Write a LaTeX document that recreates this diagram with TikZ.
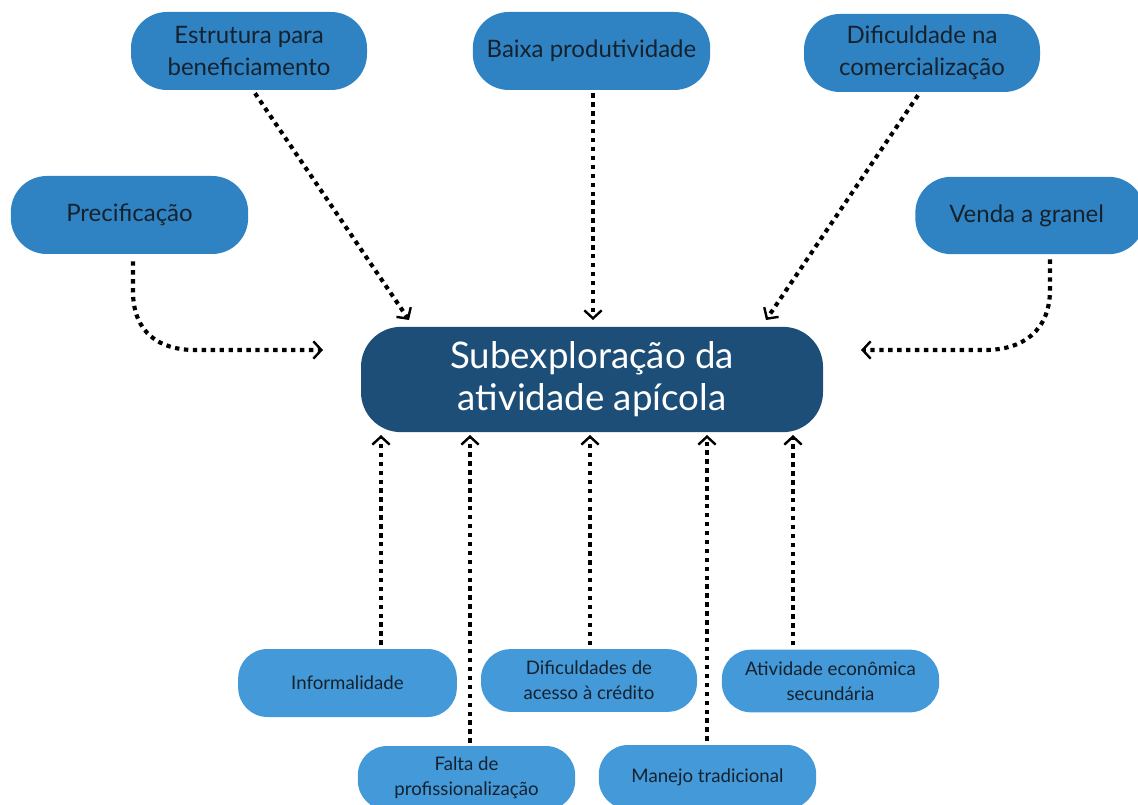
\documentclass[tikz,border=0pt]{standalone}
\usepackage{fontspec}
\setmainfont{Lato}
\usetikzlibrary{arrows.meta,calc}
\definecolor{topblue}{HTML}{3083C3}
\definecolor{lowblue}{HTML}{4499D8}
\definecolor{mainblue}{HTML}{1C4E78}
\definecolor{inktxt}{HTML}{15222E}
\tikzset{
  topbox/.style={fill=topblue, rounded corners=27pt, inner sep=0pt, text=inktxt, align=center, font=\fontsize{18}{24}\selectfont},
  lowbox/.style={fill=lowblue, rounded corners=22pt, inner sep=0pt, text=inktxt, align=center, font=\fontsize{14}{19}\selectfont},
  mainbox/.style={fill=mainblue, rounded corners=30pt, inner sep=0pt, text=white, align=center, font=\fontsize{27.5}{31.5}\selectfont},
  dotarrow/.style={line width=3.1pt, dash pattern=on 3.3pt off 3.4pt, -{Straight Barb[line width=1.8pt, length=6pt, width=13pt]}},
}
\begin{document}
\begin{tikzpicture}[x=0.75pt,y=-0.75pt]
\useasboundingbox (0,0) rectangle (1138,805);
% nodes
\node[topbox, minimum width=177pt, minimum height=58.5pt] (est) at (249,51) {Estrutura para\\beneficiamento};
\node[topbox, minimum width=178pt, minimum height=58.5pt] (baixa) at (591.5,51) {Baixa produtividade};
\node[topbox, minimum width=177pt, minimum height=58.5pt] (dif) at (922,53) {Dificuldade na\\comercialização};
\node[topbox, minimum width=178pt, minimum height=58.5pt] (prec) at (129.5,215) {Precificação};
\node[topbox, minimum width=172pt, minimum height=58pt] (venda) at (1030,215.5) {\hspace*{-5pt}Venda a granel};
\node[mainbox, minimum width=346.5pt, minimum height=79pt] (main) at (592,379.5) {Subexploração da\\atividade apícola};
\node[lowbox, minimum width=164pt, minimum height=51pt] (info) at (347.5,683) {Informalidade};
\node[lowbox, minimum width=162pt, minimum height=47pt] (difac) at (589,680.5) {Dificuldades de\\acesso à crédito};
\node[lowbox, minimum width=163pt, minimum height=47pt] (ativ) at (830.5,681) {Atividade econômica\\secundária};
\node[lowbox, minimum width=163pt, minimum height=48pt] (falta) at (466.5,778) {Falta de\\profissionalização};
\node[lowbox, minimum width=163pt, minimum height=48pt] (manejo) at (707.5,777) {Manejo tradicional};
% arrow end points
\coordinate (tEst) at (409,320);
\coordinate (tBaixa) at (593,320);
\coordinate (tDif) at (766,320);
\coordinate (tPrec) at (323,350);
\coordinate (tVenda) at (861,350);
\coordinate (tInfo) at (381,435);
\coordinate (tFalta) at (470,435);
\coordinate (tDifac) at (590,435);
\coordinate (tManejo) at (707,435);
\coordinate (tAtiv) at (793,435);
% connectors
\draw[dotarrow] ($(est.south)+(6,3)$) -- (tEst);
\draw[dotarrow] ($(baixa.south)+(1.5,3)$) -- (tBaixa);
\draw[dotarrow] ($(dif.south)+(-4,3)$) -- (tDif);
\draw[dotarrow] ($(prec.south)+(3.5,7)$) -- ++(0,30) .. controls +(0,42) and (160,350) .. (195,350) -- (tPrec);
\draw[dotarrow] ($(venda.south)+(20,5)$) -- ++(0,30) .. controls +(0,42) and (1022,350) .. (985,350) -- (tVenda);
\draw[dotarrow] ($(info.north)+(33.5,-4)$) -- (tInfo);
\draw[dotarrow] ($(falta.north)+(3.5,-3)$) -- (tFalta);
\draw[dotarrow] ($(difac.north)+(1,-4)$) -- (tDifac);
\draw[dotarrow] ($(manejo.north)+(-0.5,-4)$) -- (tManejo);
\draw[dotarrow] ($(ativ.north)+(-37.5,-4)$) -- (tAtiv);
\end{tikzpicture}
\end{document}
